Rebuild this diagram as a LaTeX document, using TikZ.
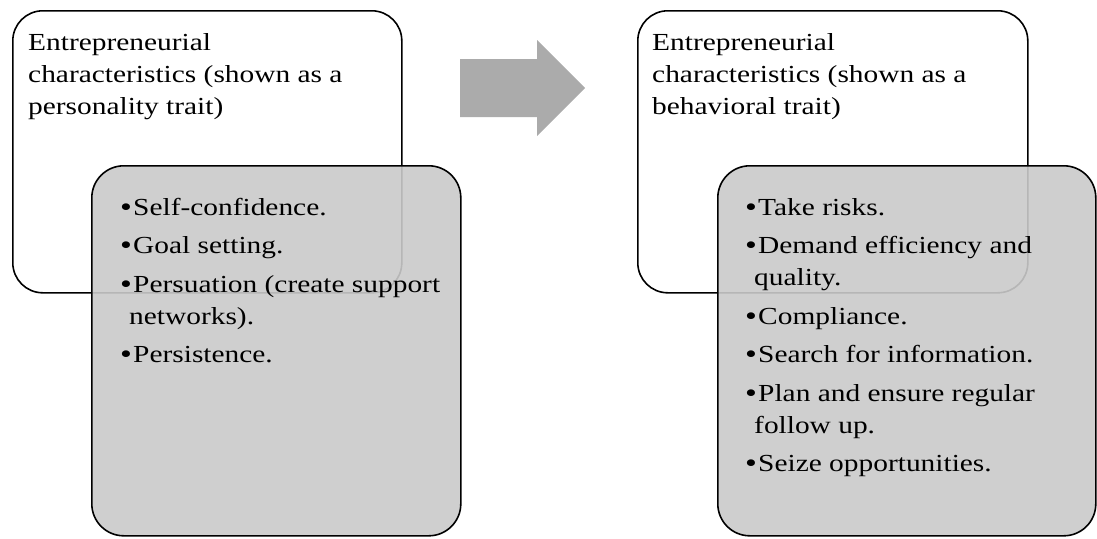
\documentclass[tikz,border=0pt]{standalone}
\usepackage{fontspec}
\setmainfont{Liberation Serif}[FakeStretch=1.2]
\definecolor{boxgray}{RGB}{202,202,202}
\definecolor{arrowgray}{RGB}{171,171,171}
\newcommand{\bitem}[1]{\par\hangindent=9pt\hangafter=1\noindent\makebox[13pt][l]{\raisebox{-1.2pt}{\scalebox{1.15}{\textbullet}}}#1}
\tikzset{
  whitebox/.style={draw=black, line width=1.6pt, rounded corners=30pt, fill=white, inner sep=0pt, anchor=north west},
  graybox/.style={draw=black, line width=1.6pt, rounded corners=32pt, fill=boxgray, fill opacity=0.9, draw opacity=1, inner sep=0pt, anchor=north west},
  txt/.style={anchor=base west, inner sep=0pt, font=\fontsize{24.5}{32}\selectfont}
}
\begin{document}
\begin{tikzpicture}[x=1pt,y=-1pt]
\useasboundingbox (0,0) rectangle (1097,538);
% left
\node[whitebox, minimum width=389pt, minimum height=282pt] (wl) at (12,10) {};
\node[txt] (tl) at (28,50) {\parbox[t]{380pt}{\raggedright Entrepreneurial\\characteristics (shown as a\\personality trait)}};
\node[graybox, minimum width=369pt, minimum height=370pt] (gl) at (91,165) {};
\node[txt] (ll) at (120,215) {\parbox[t]{360pt}{\raggedright\parskip=6.5pt
\bitem{Self-confidence.}
\bitem{Goal setting.}
\bitem{Persuation (create support\newline networks).}
\bitem{Persistence.}\par}};
% arrow
\fill[arrowgray] (460,59) -- (537,59) -- (537,40) -- (585,88) -- (537,136) -- (537,117) -- (460,117) -- cycle;
% right
\node[whitebox, minimum width=390pt, minimum height=282pt] (wr) at (637,10) {};
\node[txt] (tr) at (652,50) {\parbox[t]{380pt}{\raggedright Entrepreneurial\\characteristics (shown as a\\behavioral trait)}};
\node[graybox, minimum width=378pt, minimum height=370pt] (gr) at (717,165) {};
\node[txt] (lr) at (745,215) {\parbox[t]{360pt}{\raggedright\parskip=6.5pt
\bitem{Take risks.}
\bitem{Demand efficiency and\newline quality.}
\bitem{Compliance.}
\bitem{Search for information.}
\bitem{Plan and ensure regular\newline follow up.}
\bitem{Seize opportunities.}\par}};
\end{tikzpicture}
\end{document}
